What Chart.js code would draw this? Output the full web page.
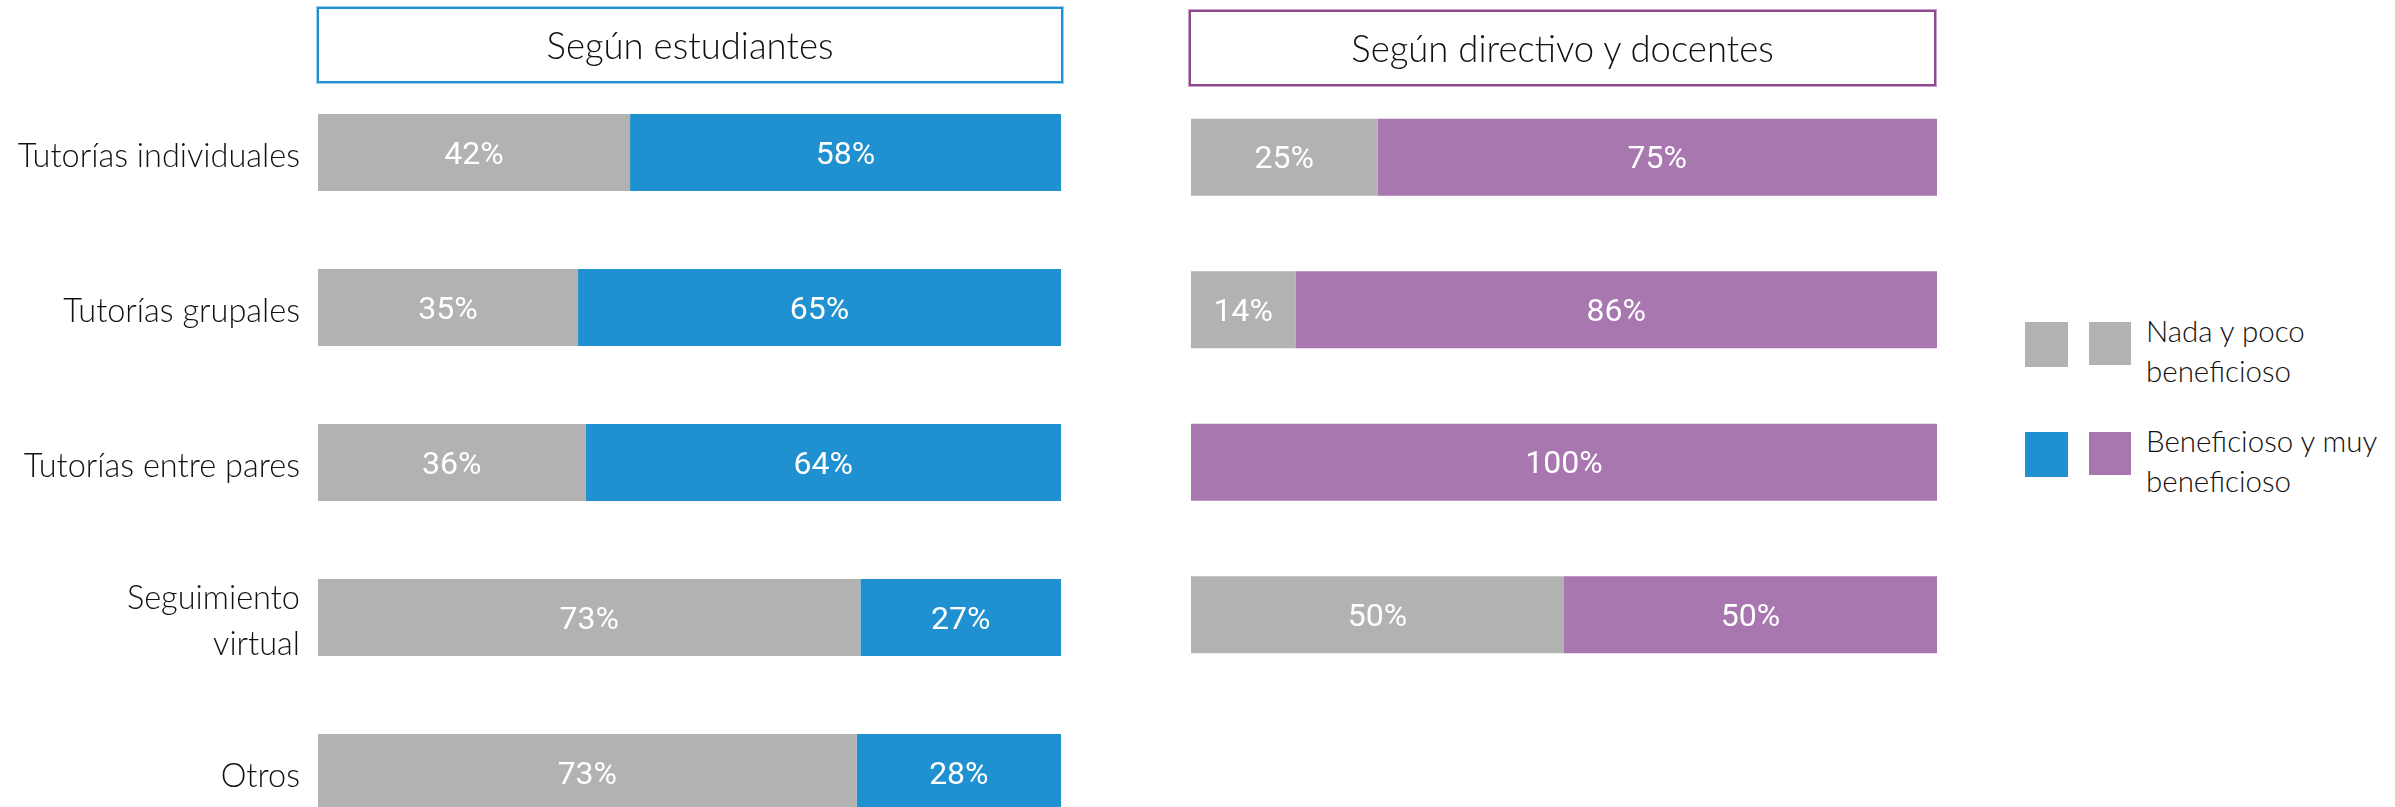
<!DOCTYPE html>
<html>
<head>
<meta charset="utf-8">
<script src="https://cdn.jsdelivr.net/npm/chart.js@4.4.1/dist/chart.umd.min.js"></script>
<style>
  html, body { margin:0; padding:0; background:#fff; width:2395px; height:807px; overflow:hidden; }
  #wrap { position:relative; width:2395px; height:807px; overflow:hidden; }
  canvas { position:absolute; }
  .tbox { position:absolute; box-sizing:border-box; display:flex; align-items:center; justify-content:center;
          font-family:'Lato', sans-serif; font-weight:300; font-size:36.5px; color:#111; background:#fff; }
  #t1 { left:317px; top:7px; width:746px; height:76px; border:2px solid #1F90D0; box-shadow:0 0 0 1px #9ccdee; }
  #t2 { left:1189px; top:10px; width:747px; height:76px; border:2px solid #8C4A8C; box-shadow:0 0 0 1px #c9a3c9; }
  .sq { position:absolute; }
  .lt { position:absolute; font-family:'Lato', sans-serif; font-weight:300; font-size:29.5px; line-height:40px; color:#111; white-space:nowrap; }
</style>
</head>
<body>
<div id="wrap">
  <canvas id="c1" width="1080" height="900" style="left:0;top:0;width:1080px;height:900px"></canvas>
  <canvas id="c2" width="800" height="807" style="left:1150px;top:0;width:800px;height:807px"></canvas>
  <div class="tbox" id="t1"></div>
  <div class="tbox" id="t2"></div>
  <div id="legend"></div>
</div>
<script>
// ---- data ----
const categories = ['Tutorías individuales', 'Tutorías grupales', 'Tutorías entre pares', ['Seguimiento', 'virtual'], 'Otros'];
const panelTitles = ['Según estudiantes', 'Según directivo y docentes'];
const seriesNames = ['Nada y poco beneficioso', 'Beneficioso y muy beneficioso'];
const legendLines = [['Nada y poco', 'beneficioso'], ['Beneficioso y muy', 'beneficioso']];
const estudiantesNada = [42, 35, 36, 73, 72.5];
const estudiantesBenef = [58, 65, 64, 27, 27.5];
const docentesNada = [25, 14, 0, 50];
const docentesBenef = [75, 86, 100, 50];
// ---- colours ----
const GRAY = '#B2B2B2', BLUE = '#1F90D0', PURPLE = '#A877B0';

document.getElementById('t1').textContent = panelTitles[0];
document.getElementById('t2').textContent = panelTitles[1];

const valueLabels = {
  id: 'valueLabels',
  afterDatasetsDraw(chart) {
    const ctx = chart.ctx;
    ctx.save();
    ctx.font = '32px Roboto';
    ctx.fillStyle = '#fff';
    ctx.textAlign = 'center';
    ctx.textBaseline = 'middle';
    chart.data.datasets.forEach((ds, i) => {
      const meta = chart.getDatasetMeta(i);
      meta.data.forEach((el, j) => {
        const v = ds.data[j];
        if (!v) return;
        const p = el.getCenterPoint();
        ctx.fillText(Math.round(v) + '%', p.x, p.y + 3);
      });
    });
    ctx.restore();
  }
};

function makeChart(id, labels, nada, benef, colB, opts) {
  return new Chart(document.getElementById(id), {
    type: 'bar',
    data: {
      labels: labels,
      datasets: [
        { label: seriesNames[0], data: nada, backgroundColor: GRAY, borderWidth: 0, barPercentage: opts.bp, categoryPercentage: 1 },
        { label: seriesNames[1], data: benef, backgroundColor: colB, borderWidth: 0, barPercentage: opts.bp, categoryPercentage: 1 }
      ]
    },
    options: {
      indexAxis: 'y',
      responsive: false,
      animation: false,
      layout: { padding: opts.padding },
      plugins: { legend: { display: false }, tooltip: { enabled: false }, title: { display: false } },
      scales: {
        x: { stacked: true, min: 0, max: 100, display: false },
        y: {
          stacked: true,
          display: opts.showY,
          grid: { display: false, drawTicks: false },
          border: { display: false },
          ticks: { padding: 18, labelOffset: 4, color: '#111', font: { family: 'Lato', size: 32.5, weight: '300', lineHeight: 1.42 } },
          afterFit: opts.showY ? (s) => { s.width = 318; } : undefined
        }
      }
    },
    plugins: [valueLabels]
  });
}

makeChart('c1', categories, estudiantesNada, estudiantesBenef, BLUE,
  { bp: 0.497, showY: true, padding: { top: 75, bottom: 50, left: 0, right: 19 } });
makeChart('c2', categories.slice(0, 4), docentesNada, docentesBenef, PURPLE,
  { bp: 0.506, showY: false, padding: { top: 81, bottom: 116, left: 41, right: 13 } });

// ---- legend ----
const lg = document.getElementById('legend');
const legendSquares = [[GRAY, GRAY], [BLUE, PURPLE]];
const legendTops = [322, 432];
legendSquares.forEach((cols, i) => {
  const t = legendTops[i];
  const a = document.createElement('div'); a.className = 'sq';
  a.style.cssText = `left:2025px;top:${t}px;width:43px;height:45px;background:${cols[0]}`;
  const b = document.createElement('div'); b.className = 'sq';
  b.style.cssText = `left:2089px;top:${t}px;width:42px;height:43px;background:${cols[1]}`;
  const tx = document.createElement('div'); tx.className = 'lt';
  tx.style.cssText = `left:2146px;top:${t - 11}px`;
  tx.innerHTML = legendLines[i].join('<br>');
  lg.appendChild(a); lg.appendChild(b); lg.appendChild(tx);
});
</script>
</body>
</html>
